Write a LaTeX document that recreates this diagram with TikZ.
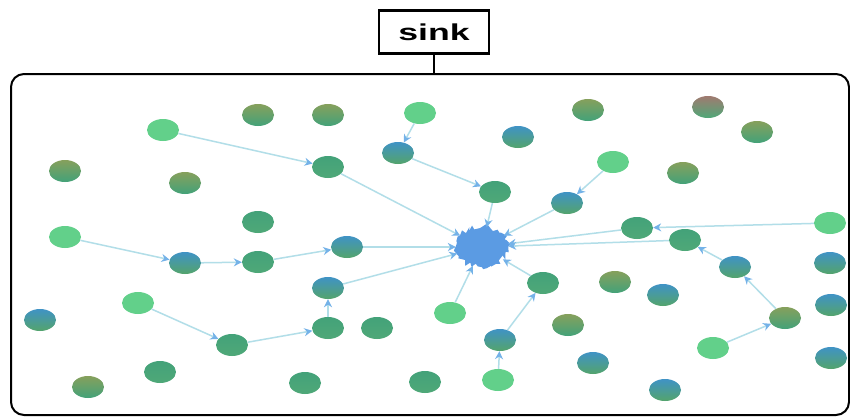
\documentclass[tikz,border=0pt]{standalone}
\usepackage{fontspec}
\setmainfont{Liberation Sans}
\usetikzlibrary{arrows.meta,shapes.geometric,decorations.pathmorphing}
\definecolor{edgec}{HTML}{B2DEE8}
\definecolor{tipc}{HTML}{74B2E8}
\definecolor{hubc}{HTML}{5B9BE3}
\definecolor{lgreen}{HTML}{62D08A}
\definecolor{mgreen}{HTML}{4FA878}
\definecolor{oliv}{HTML}{86A05C}
\definecolor{redt}{HTML}{A07A70}
\begin{document}
\begin{tikzpicture}[x=1pt,y=-1pt,
  blob/.style={ellipse,minimum width=32pt,minimum height=22pt,inner sep=0pt},
  bL/.style={blob,fill=lgreen},
  bG/.style={blob,top color=mgreen!85!teal,bottom color=mgreen},
  bO/.style={blob,top color=oliv,bottom color=mgreen!85!teal},
  bR/.style={blob,top color=redt,bottom color=mgreen},
  bT/.style={blob,top color=hubc!70!teal,bottom color=mgreen!90!olive},
  link/.style={draw=edgec,line width=1.5pt,-{Stealth[length=8pt,width=8pt,color=tipc]}},
  sinkbox/.style={draw=black,line width=2.4pt,minimum width=110pt,minimum height=43pt,inner sep=0pt},
  frame/.style={draw=black,line width=2pt,rounded corners=13pt}]
\useasboundingbox (0,0) rectangle (850,418);
\fill[white] (0,0) rectangle (850,418);
% sink label and frame
\node[sinkbox] (sink) at (434,32) {\fontsize{23}{25}\selectfont\bfseries\scalebox{1.55}[1]{sink}};
\draw[frame] (11,74) rectangle (849,415);
\coordinate (ftop) at (sink.south |- 0,74);
\draw[line width=2.2pt] (sink.south) -- (ftop);
% hub
\node[ellipse,fill=hubc,minimum width=52pt,minimum height=40pt,inner sep=0pt,
  decorate,decoration={random steps,segment length=3pt,amplitude=3pt}] (h) at (482,247) {};
% nodes
\node[bO] (a1) at (258,115) {};
\node[bO] (a2) at (328,115) {};
\node[bL] (a3) at (420,113) {};
\node[bO] (a4) at (588,110) {};
\node[bR] (a5) at (708,107) {};
\node[bL] (a6) at (163,130) {};
\node[bT] (a7) at (518,137) {};
\node[bO] (a8) at (757,132) {};
\node[bT] (a9) at (398,153) {};
\node[bG] (a10) at (328,167) {};
\node[bL] (a11) at (613,162) {};
\node[bO] (a12) at (683,173) {};
\node[bO] (a13) at (65,171) {};
\node[bO] (a14) at (185,183) {};
\node[bG] (a15) at (495,192) {};
\node[bT] (a16) at (567,203) {};
\node[bG] (a17) at (258,222) {};
\node[bG] (a18) at (637,228) {};
\node[bL] (a19) at (830,223) {};
\node[bL] (a20) at (65,237) {};
\node[bG] (a21) at (685,240) {};
\node[bT] (a22) at (347,247) {};
\node[bT] (a23) at (185,263) {};
\node[bG] (a24) at (258,262) {};
\node[bT] (a25) at (735,267) {};
\node[bT] (a26) at (830,263) {};
\node[bT] (a27) at (328,288) {};
\node[bG] (a28) at (543,283) {};
\node[bO] (a29) at (615,282) {};
\node[bT] (a30) at (663,295) {};
\node[bL] (a31) at (138,303) {};
\node[bT] (a32) at (40,320) {};
\node[bT] (a33) at (831,305) {};
\node[bL] (a34) at (450,313) {};
\node[bO] (a35) at (785,318) {};
\node[bG] (a36) at (328,328) {};
\node[bG] (a37) at (377,328) {};
\node[bO] (a38) at (568,325) {};
\node[bG] (a39) at (232,345) {};
\node[bT] (a40) at (500,340) {};
\node[bL] (a41) at (713,348) {};
\node[bT] (a42) at (831,358) {};
\node[bT] (a43) at (593,363) {};
\node[bG] (a44) at (160,372) {};
\node[bO] (a45) at (88,387) {};
\node[bG] (a46) at (305,383) {};
\node[bG] (a47) at (425,382) {};
\node[bL] (a48) at (498,380) {};
\node[bT] (a49) at (665,390) {};
% connectors
\draw[link] (a6) -- (a10);
\draw[link] (a10) -- (h);
\draw[link] (a3) -- (a9);
\draw[link] (a9) -- (a15);
\draw[link] (a15) -- (h);
\draw[link] (a11) -- (a16);
\draw[link] (a16) -- (h);
\draw[link] (a19) -- (a18);
\draw[link] (a18) -- (h);
\draw[link] (a21) -- (h);
\draw[link] (a25) -- (a21);
\draw[link] (a35) -- (a25);
\draw[link] (a41) -- (a35);
\draw[link] (a20) -- (a23);
\draw[link] (a23) -- (a24);
\draw[link] (a24) -- (a22);
\draw[link] (a22) -- (h);
\draw[link] (a27) -- (h);
\draw[link] (a36) -- (a27);
\draw[link] (a39) -- (a36);
\draw[link] (a31) -- (a39);
\draw[link] (a34) -- (h);
\draw[link] (a28) -- (h);
\draw[link] (a40) -- (a28);
\draw[link] (a48) -- (a40);
\end{tikzpicture}
\end{document}
